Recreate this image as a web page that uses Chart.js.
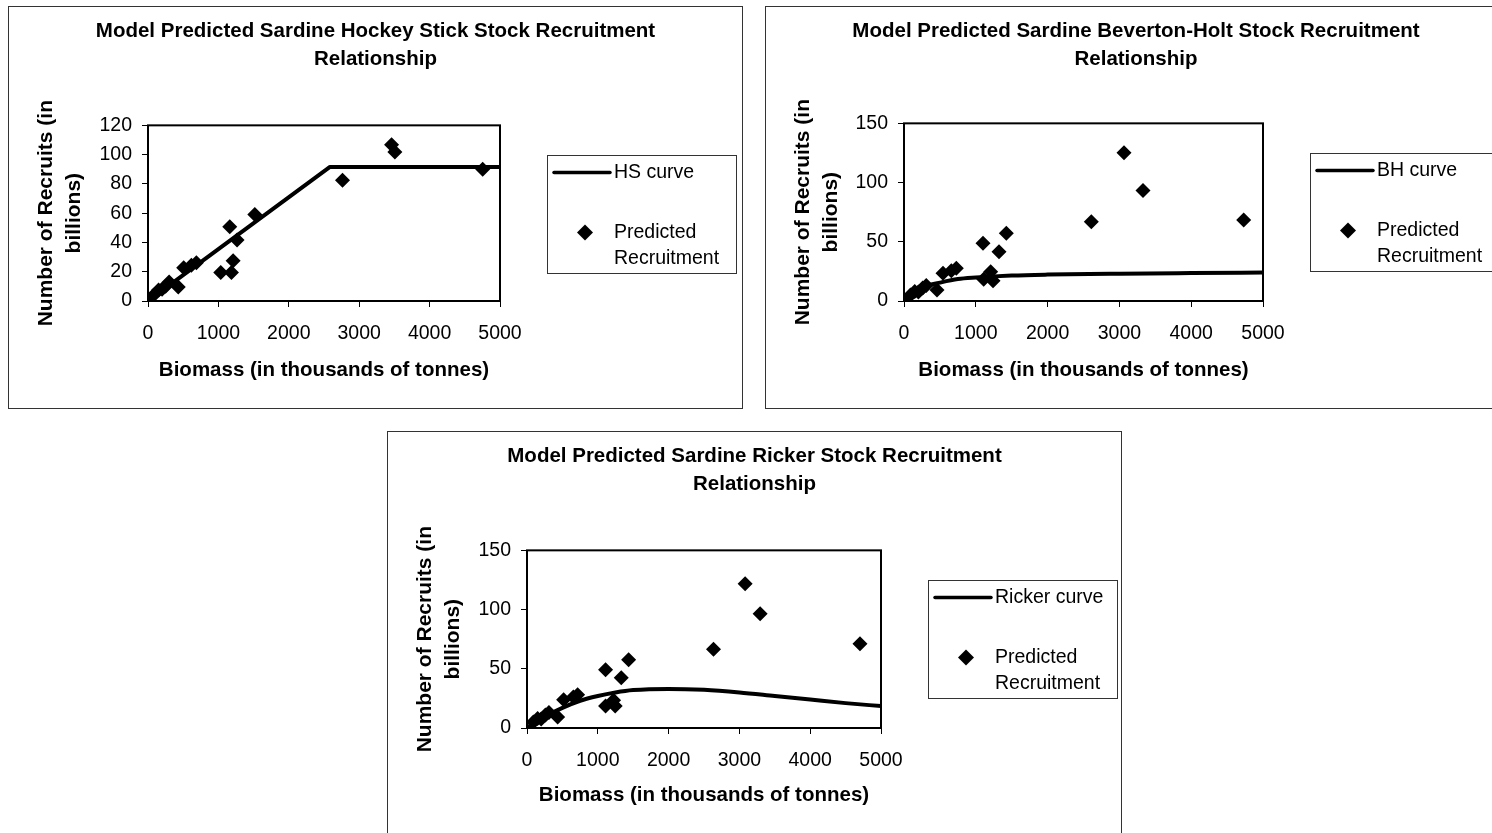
<!DOCTYPE html>
<html>
<head>
<meta charset="utf-8">
<title>Sardine stock recruitment</title>
<script src="https://cdn.jsdelivr.net/npm/chart.js@4/dist/chart.umd.min.js"></script>
<style>
  html, body { margin: 0; padding: 0; background: #fff; overflow: hidden; }
  body { width: 1492px; height: 833px; position: relative; }
  .frame { position: absolute; border: 1px solid #333; background: #fff; }
  .frame canvas { display: block; }
</style>
</head>
<body>
<div class="frame" style="left:8px;top:6px;"><canvas id="hs" width="733" height="401"></canvas></div>
<div class="frame" style="left:765px;top:6px;"><canvas id="bh" width="740" height="401"></canvas></div>
<div class="frame" style="left:387px;top:431px;"><canvas id="ricker" width="733" height="401"></canvas></div>
<script>
// values: biomass in thousands of tonnes, recruits in billions
const hsBiomass  = [80, 150, 200, 250, 300, 430, 507, 616, 687, 1033, 1161, 1185, 1209, 1265, 1517, 2763, 3460, 3507, 4754];
const hsRecruits = [4, 7.5, 8, 10, 13, 9.5, 22.7, 24.5, 26.1, 19.5, 50.7, 19.5, 27.5, 41.6, 59.1, 82.5, 106.8, 101.8, 90];
const hsCurveX = [0, 2585, 5000];
const hsCurveY = [0, 91.6, 91.6];

const bhBiomass  = [90, 150, 200, 260, 310, 460, 543, 659, 729, 1100, 1110, 1207, 1240, 1323, 1425, 2609, 3064, 3329, 4731];
const bhRecruits = [5, 8, 7.5, 11, 13, 9.3, 23.4, 25.6, 27.6, 48.7, 18.3, 24.8, 17.2, 41.6, 57.1, 67, 125.2, 93.2, 68.4];
const bhCurveX = [0, 100, 200, 300, 500, 750, 1000, 1500, 2000, 3000, 4000, 5000];
const bhCurveY = [0, 6, 10, 12.5, 15.5, 18.5, 19.8, 21.5, 22.3, 23.1, 23.6, 24];

const rkBiomass  = [90, 150, 200, 260, 310, 433, 517, 655, 715, 1110, 1110, 1223, 1246, 1331, 1435, 2634, 3081, 3293, 4703];
const rkRecruits = [5, 8, 7.5, 11, 13, 9.3, 23.9, 26.2, 28.1, 49.2, 18.6, 23.4, 18.6, 42.5, 57.7, 66.4, 121.9, 96.5, 71.2];
const rkCurveX = [0, 250, 500, 750, 1000, 1250, 1500, 2000, 2500, 3000, 3500, 4000, 4500, 5000];
const rkCurveY = [0, 9.5, 17, 23, 27, 30, 32, 33, 32.2, 30, 27, 24, 21, 18.5];

const xTicks = [0, 1000, 2000, 3000, 4000, 5000];
const hsYTicks = [0, 20, 40, 60, 80, 100, 120];
const srYTicks = [0, 50, 100, 150];

const FONT = 'Arial, "Liberation Sans", sans-serif';
Chart.defaults.font.family = FONT;
Chart.defaults.color = '#000';

const toPoints = (xs, ys) => xs.map((x, i) => ({ x: x, y: ys[i] }));

// black frame round the plot area, like the spreadsheet one
const plotFrame = {
  id: 'plotFrame',
  afterDatasetsDraw(chart) {
    const a = chart.chartArea;
    const ctx = chart.ctx;
    ctx.save();
    ctx.strokeStyle = '#000';
    ctx.lineWidth = 2;
    ctx.strokeRect(a.left, a.top, a.right - a.left, a.bottom - a.top);
    ctx.restore();
  }
};

// boxed legend to the right of the plot, labels wrap onto two lines
const boxLegend = {
  id: 'boxLegend',
  afterDraw(chart, args, opts) {
    const ctx = chart.ctx;
    const left = Math.round(chart.chartArea.right + opts.gap);
    const top = Math.round(chart.chartArea.top + opts.top);
    ctx.save();
    ctx.strokeStyle = '#333';
    ctx.lineWidth = 1;
    ctx.strokeRect(left + 0.5, top + 0.5, opts.width, opts.height);
    ctx.font = '19.5px ' + FONT;
    ctx.fillStyle = '#000';
    ctx.textBaseline = 'middle';
    ctx.textAlign = 'left';
    chart.data.datasets.forEach((ds, i) => {
      const y = top + 17.5 + i * 60;
      if (ds.showLine) {
        ctx.strokeStyle = '#000';
        ctx.lineWidth = 3.5;
        ctx.lineCap = 'round';
        ctx.beginPath();
        ctx.moveTo(left + 7, y);
        ctx.lineTo(left + 63, y);
        ctx.stroke();
      } else {
        const r = 8;
        const cx = left + 38;
        ctx.beginPath();
        ctx.moveTo(cx, y - r);
        ctx.lineTo(cx + r, y);
        ctx.lineTo(cx, y + r);
        ctx.lineTo(cx - r, y);
        ctx.closePath();
        ctx.fill();
      }
      // word wrap
      const words = ds.label.split(' ');
      const lines = [];
      let cur = '';
      words.forEach(w => {
        const t = cur ? cur + ' ' + w : w;
        if (cur && ctx.measureText(t).width > 115) { lines.push(cur); cur = w; } else { cur = t; }
      });
      lines.push(cur);
      lines.forEach((ln, k) => ctx.fillText(ln, left + 67, y + k * 26));
    });
    ctx.restore();
  }
};

function makeChart(id, cfg) {
  const yTicks = cfg.yTicks;
  const boldFont = { size: 20.5, weight: 'bold', lineHeight: 1.35 };
  return new Chart(document.getElementById(id), {
    type: 'scatter',
    data: {
      datasets: [
        {
          label: cfg.curveLabel,
          data: toPoints(cfg.curveX, cfg.curveY),
          showLine: true,
          borderColor: '#000',
          borderWidth: 4,
          borderCapStyle: 'round',
          borderJoinStyle: 'round',
          pointRadius: 0,
          cubicInterpolationMode: cfg.smooth ? 'monotone' : 'default',
          tension: 0
        },
        {
          label: 'Predicted Recruitment',
          data: toPoints(cfg.px, cfg.py),
          showLine: false,
          pointStyle: 'rectRot',
          pointRadius: 7.5,
          pointHoverRadius: 7.5,
          backgroundColor: '#000',
          borderColor: '#000',
          borderWidth: 0
        }
      ]
    },
    options: {
      responsive: false,
      animation: false,
      events: [],
      layout: { padding: 0 },
      plugins: {
        legend: { display: false },
        tooltip: { enabled: false },
        title: {
          display: true,
          text: cfg.title,
          font: boldFont,
          padding: { top: 11, bottom: cfg.titleGap }
        },
        boxLegend: { gap: 47, top: 29.5, width: 189, height: 118 }
      },
      scales: {
        x: {
          type: 'linear',
          min: xTicks[0],
          max: xTicks[xTicks.length - 1],
          ticks: { stepSize: xTicks[1] - xTicks[0], padding: 15, font: { size: 19.5 }, callback: v => String(v) },
          grid: { display: true, drawOnChartArea: false, drawTicks: true, tickLength: 6, color: '#000', lineWidth: 1 },
          border: { display: false },
          title: {
            display: true,
            text: 'Biomass (in thousands of tonnes)',
            font: boldFont,
            padding: { top: 0, bottom: 24 }
          },
          afterFit: s => { s.height = cfg.xh; }
        },
        y: {
          type: 'linear',
          min: yTicks[0],
          max: yTicks[yTicks.length - 1],
          ticks: { stepSize: yTicks[1] - yTicks[0], padding: 10, font: { size: 19.5 }, callback: v => String(v) },
          grid: { display: true, drawOnChartArea: false, drawTicks: true, tickLength: 6, color: '#000', lineWidth: 1 },
          border: { display: false },
          title: {
            display: true,
            text: ['Number of Recruits (in', 'billions)'],
            font: { size: 21, weight: 'bold', lineHeight: 1.3 },
            padding: { top: 24, bottom: 0 }
          },
          afterFit: s => { s.width = cfg.yw; }
        },
        // empty axis that keeps room for the legend on the right
        pad: {
          type: 'linear',
          axis: 'y',
          position: 'right',
          display: true,
          ticks: { display: false },
          grid: { display: false },
          border: { display: false },
          afterFit: s => { s.width = cfg.rightW; }
        }
      }
    },
    plugins: [plotFrame, boxLegend]
  });
}

makeChart('hs', {
  title: ['Model Predicted Sardine Hockey Stick Stock Recruitment', 'Relationship'],
  curveLabel: 'HS curve', curveX: hsCurveX, curveY: hsCurveY, smooth: false,
  px: hsBiomass, py: hsRecruits, yTicks: hsYTicks,
  yw: 139, rightW: 242, titleGap: 52, xh: 107
});

makeChart('bh', {
  title: ['Model Predicted Sardine Beverton-Holt Stock Recruitment', 'Relationship'],
  curveLabel: 'BH curve', curveX: bhCurveX, curveY: bhCurveY, smooth: true,
  px: bhBiomass, py: bhRecruits, yTicks: srYTicks,
  yw: 138, rightW: 243, titleGap: 50, xh: 107
});

makeChart('ricker', {
  title: ['Model Predicted Sardine Ricker Stock Recruitment', 'Relationship'],
  curveLabel: 'Ricker curve', curveX: rkCurveX, curveY: rkCurveY, smooth: true,
  px: rkBiomass, py: rkRecruits, yTicks: srYTicks,
  yw: 139, rightW: 240, titleGap: 52, xh: 105
});
</script>
</body>
</html>
